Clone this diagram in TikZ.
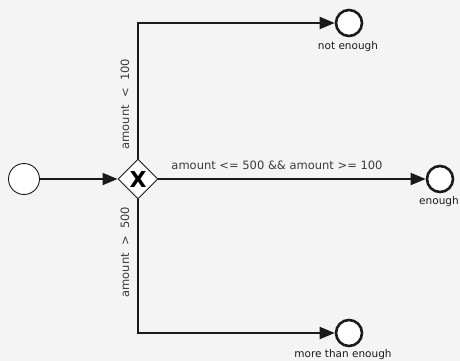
\documentclass[tikz,border=0pt]{standalone}
\usepackage{fontspec}
\setmainfont{DejaVu Sans}
\usetikzlibrary{arrows.meta,shapes.geometric}
\definecolor{bgc}{HTML}{F4F4F4}
\definecolor{ink}{HTML}{1A1A1A}
\tikzset{
  flow/.style={draw=ink,line width=1.8pt,-{Triangle[length=15pt,width=12pt]}},
  startev/.style={circle,draw=ink,line width=0.9pt,fill=white,minimum size=31pt,inner sep=0pt},
  endev/.style={circle,draw=ink,line width=2.6pt,fill=white,minimum size=26pt,inner sep=0pt},
  gate/.style={diamond,draw=ink,line width=0.9pt,fill=white,minimum width=40pt,minimum height=40pt,inner sep=0pt},
  cond/.style={font=\fontsize{11.5}{12}\selectfont,text=ink!85,inner sep=0pt},
  evlabel/.style={font=\fontsize{10.5}{11}\selectfont,text=ink,inner sep=0pt}
}
\begin{document}
\begin{tikzpicture}[x=1pt,y=-1pt]
  \fill[bgc] (0,0) rectangle (460,361);
  \useasboundingbox (0,0) rectangle (460,361);

  \node[startev] (start) at (24,179) {};
  \node[gate] (gw) at (138,179) {\fontsize{22}{22}\selectfont\bfseries X};

  \node[endev] (e1) at (349,23) {};
  \node[endev] (e2) at (440,179) {};
  \node[endev] (e3) at (349,333) {};

  \node[evlabel] (l1) at (348,47) {not enough};
  \node[evlabel] (l2) at (439,202) {enough};
  \node[evlabel] (l3) at (343,355) {more than enough};

  \draw[flow] (start) -- (gw.west);
  \draw[flow] (gw.north) |- (e1);
  \draw[flow] (gw.east) -- (e2);
  \draw[flow] (gw.south) |- (e3);

  \node[cond,rotate=90] (c1) at (125,104) {amount\ \ {\textless}\ \ 100};
  \node[cond,rotate=90] (c3) at (125,252) {amount\ \ {\textgreater}\ \ 500};
  \node[cond] (c2) at (277,165) {amount <= 500 \&\& amount >= 100};
\end{tikzpicture}
\end{document}
